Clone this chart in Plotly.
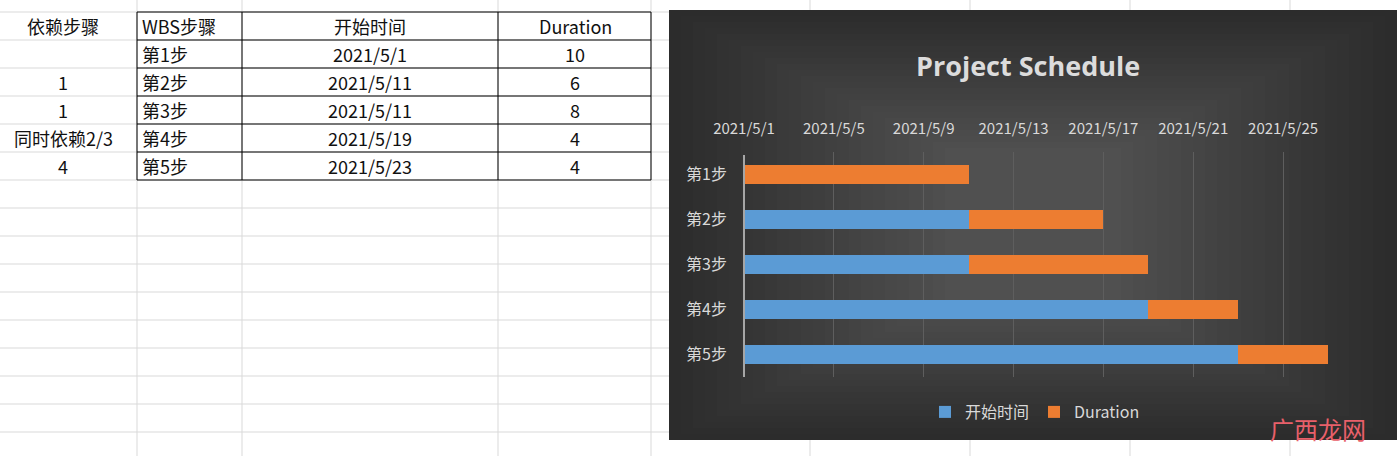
import pandas as pd
import plotly.graph_objects as go

# sheet data
deps = ["", "1", "1", "同时依赖2/3", "4"]
steps = ["第1步", "第2步", "第3步", "第4步", "第5步"]
start_dates = ["2021/5/1", "2021/5/11", "2021/5/11", "2021/5/19", "2021/5/23"]
durations = [10, 6, 8, 4, 4]
tick_dates = ["2021/5/1", "2021/5/5", "2021/5/9", "2021/5/13", "2021/5/17", "2021/5/21", "2021/5/25"]

W, H = 1397, 456
FONT = "Noto Sans CJK SC"

def px(x):
    return x / W

def py(y):
    return 1 - y / H

origin = pd.Timestamp("2021-05-01")
start_off = [(pd.Timestamp(d) - origin).days for d in start_dates]
tick_off = [(pd.Timestamp(d) - origin).days for d in tick_dates]

fig = go.Figure()
fig.add_trace(go.Bar(y=steps, x=start_off, orientation="h", name="开始时间",
                     marker=dict(color="#5b9bd5", line=dict(width=0)), width=0.42))
fig.add_trace(go.Bar(y=steps, x=durations, orientation="h", name="Duration",
                     marker=dict(color="#ed7d31", line=dict(width=0)), width=0.42))

shapes = []
# spreadsheet grid
for y in range(12, 456, 28):
    shapes.append(dict(type="line", xref="paper", yref="paper", x0=0, x1=1,
                       y0=py(y), y1=py(y), line=dict(color="#d9d9d9", width=1), layer="below"))
for x in [137, 242, 498, 651, 810, 970, 1130, 1290]:
    shapes.append(dict(type="line", xref="paper", yref="paper", x0=px(x), x1=px(x),
                       y0=0, y1=1, line=dict(color="#d9d9d9", width=1), layer="below"))
# table borders
for y in [12, 40, 68, 96, 124, 152, 180]:
    shapes.append(dict(type="line", xref="paper", yref="paper", x0=px(137), x1=px(651),
                       y0=py(y), y1=py(y), line=dict(color="black", width=1), layer="below"))
for x in [137, 242, 498, 651]:
    shapes.append(dict(type="line", xref="paper", yref="paper", x0=px(x), x1=px(x),
                       y0=py(12), y1=py(180), line=dict(color="black", width=1), layer="below"))
# chart background with a soft gradient
n = 24
for i in range(n):
    g = 0x2c + int((0x50 - 0x2c) * i / (n - 1))
    c = f"rgb({g},{g},{g})"
    d = i * 7.5
    shapes.append(dict(type="rect", xref="paper", yref="paper",
                       x0=px(669 + d * 1.6), x1=px(1397 - d * 1.6),
                       y0=py(440 - d * 0.8), y1=py(10 + d * 0.8),
                       fillcolor=c, line=dict(width=0), layer="below"))
# y axis line
shapes.append(dict(type="line", xref="paper", yref="paper", x0=px(744), x1=px(744),
                   y0=py(155), y1=py(377), line=dict(color="#a6a6a6", width=2)))

ann = []
def cell(text, x, y, anchor="center"):
    ann.append(dict(text=text, x=px(x), y=py(y), xref="paper", yref="paper", showarrow=False,
                    xanchor=anchor, yanchor="middle", font=dict(family=FONT, size=18, color="#111")))

cell("依赖步骤", 63, 26)
cell("WBS步骤", 140, 26, "left")
cell("开始时间", 370, 26)
cell("Duration", 575, 26)
for i in range(5):
    y = 54 + 28 * i
    cell(deps[i], 63, y)
    cell(steps[i], 140, y, "left")
    cell(start_dates[i], 370, y)
    cell(str(durations[i]), 575, y)

ann.append(dict(text="<b>Project Schedule</b>", x=px(1028), y=py(65), xref="paper", yref="paper",
                xanchor="center", yanchor="middle", showarrow=False,
                font=dict(family="Open Sans", size=27, color="#dcdcdc")))
ann.append(dict(text="广西龙网", x=px(1318), y=py(428), xref="paper", yref="paper", showarrow=False,
                xanchor="center", yanchor="middle", font=dict(family=FONT, size=24, color="#e8606a")))

fig.update_layout(
    width=W, height=H, margin=dict(l=0, r=0, t=0, b=0, autoexpand=False),
    paper_bgcolor="white", plot_bgcolor="rgba(0,0,0,0)",
    barmode="stack", bargap=0.58,
    shapes=shapes, annotations=ann,
    xaxis=dict(domain=[px(744), px(1328)], range=[0, 26], side="top",
               tickvals=tick_off, ticktext=tick_dates, showgrid=True, gridcolor="#5e5e5e",
               zeroline=False, showline=False, ticks="", ticklabelstandoff=14,
               tickfont=dict(family=FONT, size=15, color="#d9d9d9")),
    yaxis=dict(domain=[py(377), py(152)], autorange="reversed", showgrid=False, ticks="",
               ticklabelstandoff=16, tickfont=dict(family=FONT, size=16, color="#d9d9d9")),
    legend=dict(orientation="h", x=px(1035), xanchor="center", y=py(412), yanchor="middle",
                traceorder="normal", itemwidth=30,
                font=dict(family=FONT, size=16, color="#d9d9d9"), bgcolor="rgba(0,0,0,0)"),
    showlegend=True,
)

fig.write_html("out.html", config={"displayModeBar": False},
               post_script="document.body.style.margin='0';")
